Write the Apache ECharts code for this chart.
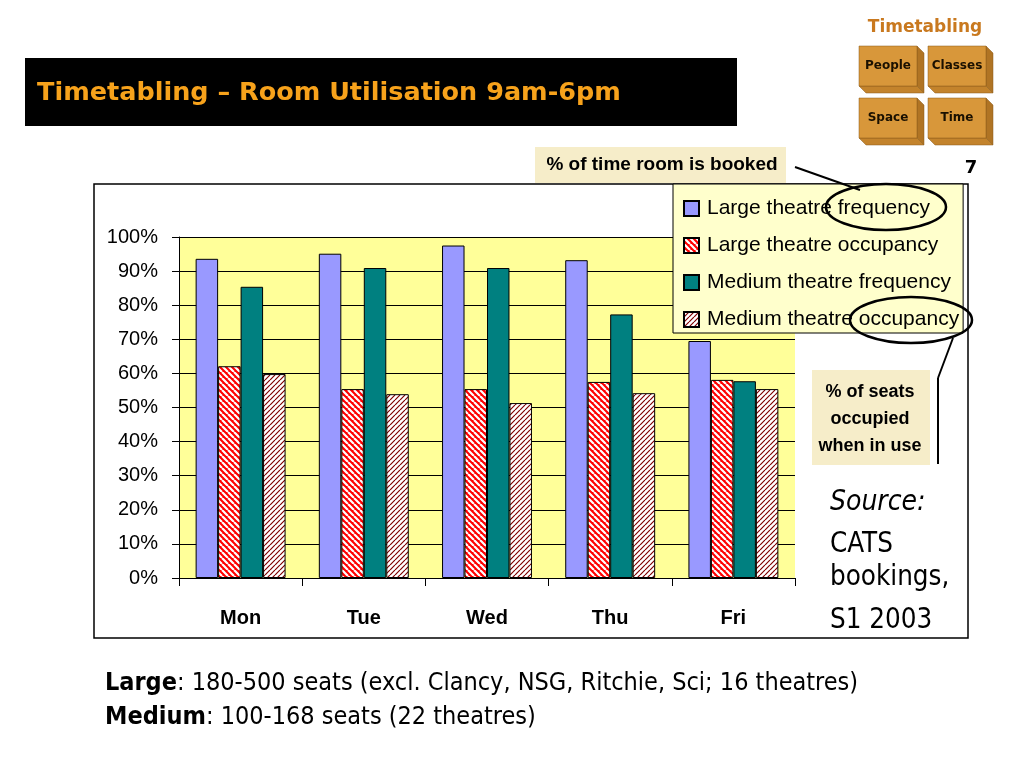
<!DOCTYPE html>
<html>
<head>
<meta charset="utf-8">
<script src="https://cdn.jsdelivr.net/npm/echarts@6/dist/echarts.min.js"></script>
<style>
  html, body { margin: 0; padding: 0; background: #fff; }
  #main { width: 1024px; height: 768px; }
</style>
</head>
<body>
<div id="main"></div>
<script>
// data
var days = ['Mon', 'Tue', 'Wed', 'Thu', 'Fri'];
var seriesNames = ['Large theatre frequency', 'Large theatre occupancy', 'Medium theatre frequency', 'Medium theatre occupancy'];
var largeFrequency = [0.936, 0.951, 0.975, 0.932, 0.695];
var largeOccupancy = [0.621, 0.554, 0.554, 0.575, 0.581];
var mediumFrequency = [0.854, 0.909, 0.909, 0.773, 0.577];
var mediumOccupancy = [0.598, 0.539, 0.513, 0.542, 0.554];
var yTicks = [0, 0.1, 0.2, 0.3, 0.4, 0.5, 0.6, 0.7, 0.8, 0.9, 1];

var sans = "'Liberation Sans', Arial, sans-serif";
var tahoma = "'DejaVu Sans Condensed', 'DejaVu Sans', sans-serif";
var verdana = "'DejaVu Sans', Verdana, sans-serif";

// diagonal hatch tile
function hatch(bg, fg, lw, s, dir) {
    var c = document.createElement('canvas');
    c.width = c.height = s;
    var g = c.getContext('2d');
    g.fillStyle = bg;
    g.fillRect(0, 0, s, s);
    g.strokeStyle = fg;
    g.lineWidth = lw;
    g.beginPath();
    for (var k = -1; k <= 1; k++) {
        if (dir === '\\') {
            g.moveTo(k * s, 0); g.lineTo(k * s + s, s);
        } else {
            g.moveTo(k * s, s); g.lineTo(k * s + s, 0);
        }
    }
    g.stroke();
    return c;
}

var redHatch = { image: hatch('#ff0000', '#ffffff', 2.2, 6, '\\'), repeat: 'repeat' };
var maroonHatch = { image: hatch('#ffffff', '#800000', 1.2, 5, '/'), repeat: 'repeat' };
var fills = ['#9999ff', redHatch, '#008080', maroonHatch];
var values = [largeFrequency, largeOccupancy, mediumFrequency, mediumOccupancy];

var series = seriesNames.map(function (name, i) {
    return {
        name: name,
        type: 'bar',
        data: values[i],
        barGap: '0%',
        barCategoryGap: '27%',
        itemStyle: { color: fills[i], borderColor: '#000', borderWidth: 1 },
        emphasis: { disabled: true }
    };
});

// 3D-ish boxes top right
function box(x, y, label) {
    var w = 58, h = 40, d = 7;
    return [
        { type: 'polygon', shape: { points: [[x + w, y], [x + w + d, y + d], [x + w + d, y + h + d], [x + w, y + h]] },
          style: { fill: '#b07424', stroke: '#8a5a1a', lineWidth: 0.5 } },
        { type: 'polygon', shape: { points: [[x, y + h], [x + w, y + h], [x + w + d, y + h + d], [x + d, y + h + d]] },
          style: { fill: '#c3832c', stroke: '#8a5a1a', lineWidth: 0.5 } },
        { type: 'rect', shape: { x: x, y: y, width: w, height: h },
          style: { fill: '#d8973a', stroke: '#8a5a1a', lineWidth: 0.5 } },
        { type: 'text', x: x + w / 2, y: y + h / 2,
          style: { text: label, font: 'bold 12px ' + verdana, fill: '#1a1000', align: 'center', verticalAlign: 'middle' } }
    ];
}

var graphics = [
    // chart frame
    { type: 'rect', z: -100, shape: { x: 94, y: 184, width: 874, height: 454 },
      style: { fill: '#ffffff', stroke: '#000', lineWidth: 1.5 } },
    // title bar
    { type: 'rect', shape: { x: 25, y: 58, width: 712, height: 68 }, style: { fill: '#000' } },
    { type: 'text', x: 37, y: 93,
      style: { text: 'Timetabling \u2013 Room Utilisation 9am-6pm', font: 'bold 25.5px ' + verdana, fill: '#f7a21b', verticalAlign: 'middle' } },
    { type: 'text', x: 925, y: 28,
      style: { text: 'Timetabling', font: 'bold 17px ' + verdana, fill: '#c9791f', align: 'center', verticalAlign: 'middle' } },
    { type: 'text', x: 971, y: 168,
      style: { text: '7', font: 'bold 18px ' + verdana, fill: '#000', align: 'center', verticalAlign: 'middle' } },
    // callout: time booked
    { type: 'rect', shape: { x: 535, y: 147, width: 251, height: 36 }, style: { fill: '#f6edc9' } },
    { type: 'text', x: 662, y: 165,
      style: { text: '% of time room is booked', font: 'bold 19px ' + sans, fill: '#000', align: 'center', verticalAlign: 'middle' } },
    { type: 'line', z: 10, shape: { x1: 795, y1: 167, x2: 860, y2: 190 }, style: { stroke: '#000', lineWidth: 2 } },
    { type: 'ellipse', z: 10, shape: { cx: 886, cy: 207, rx: 60, ry: 23 }, style: { fill: null, stroke: '#000', lineWidth: 2.5 } },
    { type: 'ellipse', z: 10, shape: { cx: 911, cy: 320, rx: 61, ry: 23 }, style: { fill: null, stroke: '#000', lineWidth: 2.5 } },
    // callout: seats occupied
    { type: 'line', z: 10, shape: { x1: 953, y1: 338, x2: 938, y2: 378 }, style: { stroke: '#000', lineWidth: 2 } },
    { type: 'line', z: 10, shape: { x1: 938, y1: 378, x2: 938, y2: 464 }, style: { stroke: '#000', lineWidth: 2 } },
    { type: 'rect', shape: { x: 812, y: 370, width: 118, height: 95 }, style: { fill: '#f6edc9' } },
    { type: 'text', x: 870, y: 419,
      style: { text: '% of seats\noccupied\nwhen in use', font: 'bold 18px ' + sans, lineHeight: 27, fill: '#000', align: 'center', verticalAlign: 'middle' } },
    // source
    { type: 'text', x: 830, y: 503, style: { text: 'Source:', font: 'italic 28px ' + tahoma, fill: '#000', verticalAlign: 'middle' } },
    { type: 'text', x: 830, y: 545, style: { text: 'CATS', font: '27.5px ' + tahoma, fill: '#000', verticalAlign: 'middle' } },
    { type: 'text', x: 830, y: 578, style: { text: 'bookings,', font: '27.5px ' + tahoma, fill: '#000', verticalAlign: 'middle' } },
    { type: 'text', x: 830, y: 621, style: { text: 'S1 2003', font: '27.5px ' + tahoma, fill: '#000', verticalAlign: 'middle' } },
    // footer
    { type: 'text', x: 105, y: 683,
      style: { text: '{b|Large}: 180-500 seats (excl. Clancy, NSG, Ritchie, Sci; 16 theatres)', font: '25px ' + tahoma, fill: '#000', verticalAlign: 'middle',
               rich: { b: { font: 'bold 25px ' + tahoma, fill: '#000' } } } },
    { type: 'text', x: 105, y: 717,
      style: { text: '{b|Medium}: 100-168 seats (22 theatres)', font: '25px ' + tahoma, fill: '#000', verticalAlign: 'middle',
               rich: { b: { font: 'bold 25px ' + tahoma, fill: '#000' } } } }
]
    .concat(box(859, 46, 'People'))
    .concat(box(928, 46, 'Classes'))
    .concat(box(859, 98, 'Space'))
    .concat(box(928, 98, 'Time'));

var myChart = echarts.init(document.getElementById('main'), null, { renderer: 'canvas' });

var option = {
    animation: false,
    backgroundColor: '#ffffff',
    textStyle: { fontFamily: sans },
    grid: {
        left: 179, right: 229, top: 237, bottom: 190,
        show: true, backgroundColor: '#ffff99', borderWidth: 0
    },
    legend: {
        orient: 'vertical',
        left: 673,
        top: 184,
        backgroundColor: '#ffffcc',
        borderColor: '#000',
        borderWidth: 1,
        padding: [14, 4, 3, 10],
        itemWidth: 15,
        itemHeight: 15,
        itemGap: 16,
        icon: 'rect',
        selectedMode: false,
        textStyle: { fontFamily: sans, fontSize: 21, color: '#000', padding: [0, 0, 0, 3] },
        data: seriesNames
    },
    xAxis: {
        type: 'category',
        data: days,
        axisLine: { lineStyle: { color: '#000', width: 1 } },
        axisTick: { show: true, length: 8, lineStyle: { color: '#000' } },
        axisLabel: { color: '#000', fontFamily: sans, fontSize: 20, fontWeight: 'bold', margin: 30 },
        splitLine: { show: false }
    },
    yAxis: {
        type: 'value',
        min: 0,
        max: 1,
        interval: 0.1,
        axisLine: { show: true, lineStyle: { color: '#000', width: 1 } },
        axisTick: { show: true, length: 7, lineStyle: { color: '#000' } },
        axisLabel: {
            color: '#000', fontFamily: sans, fontSize: 20, margin: 21,
            formatter: function (v) {
                var i = yTicks.indexOf(Math.round(v * 10) / 10);
                return Math.round((i >= 0 ? yTicks[i] : v) * 100) + '%';
            }
        },
        splitLine: { show: true, lineStyle: { color: '#000', width: 1 } }
    },
    graphic: graphics,
    series: series
};

myChart.setOption(option);
</script>
</body>
</html>
